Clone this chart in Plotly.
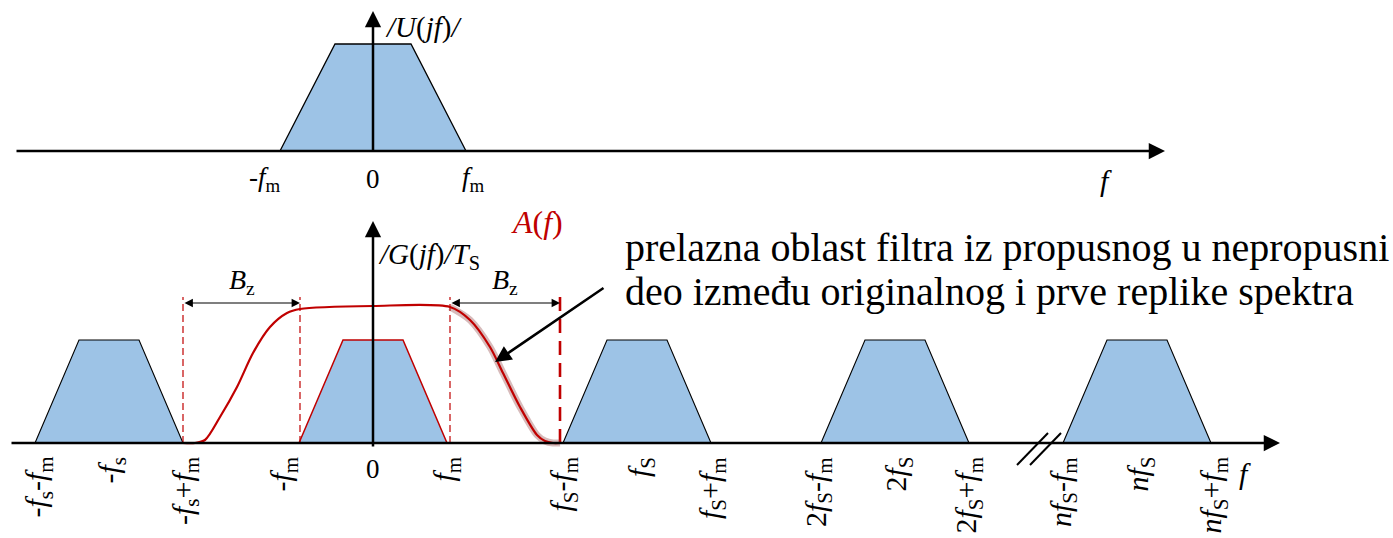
import plotly.graph_objects as go

# ---------------- data (frequency units, 0 at the vertical axis) ----------------
# top spectrum |U(jf)|
top_fm = 93          # half width of base (f_m)
top_flat = 38        # half width of flat top
top_h = 107          # height

# bottom spectrum replicas
rep_centers = [-264, 0, 264, 522, 764]
rep_fm = 74
rep_flat = 30
rep_h = 103

# filter A(f)
filt_x = [-190, -178, -168, -153, -136, -120, -103, -86, -73, 0, 77, 97, 117, 130, 147, 164, 172, 180, 187]
filt_y = [0, 0, 3, 26, 56, 90, 116, 130, 134, 137, 136, 123, 96, 70, 36, 8, 2, 0, 0]
trans_x = [77, 97, 117, 130, 147, 164, 172, 180, 187]
trans_y = [136, 123, 96, 70, 36, 8, 2, 0, 0]

dash_pos = [-190, -73, 77, 187]
bz_pairs = [(-190, -73), (77, 187)]

top_ticks = [-108, 0, 100]
top_labels = ["-<i>f</i><sub>m</sub>", "0", "<i>f</i><sub>m</sub>"]

bot_ticks = [-335, -262, -188, -90, 0, 73, 190, 268, 339, 445, 525, 595, 690, 767, 840]
bot_labels = [
    "-<i>f</i><sub>s</sub>-<i>f</i><sub>m</sub>", "-<i>f</i><sub>s</sub>", "-<i>f</i><sub>s</sub>+<i>f</i><sub>m</sub>",
    "-<i>f</i><sub>m</sub>", "0", "<i>f</i><sub>m</sub>",
    "<i>f</i><sub>S</sub>-<i>f</i><sub>m</sub>", "<i>f</i><sub>S</sub>", "<i>f</i><sub>S</sub>+<i>f</i><sub>m</sub>",
    "2<i>f</i><sub>S</sub>-<i>f</i><sub>m</sub>", "2<i>f</i><sub>S</sub>", "2<i>f</i><sub>S</sub>+<i>f</i><sub>m</sub>",
    "<i>nf</i><sub>S</sub>-<i>f</i><sub>m</sub>", "<i>nf</i><sub>S</sub>", "<i>nf</i><sub>S</sub>+<i>f</i><sub>m</sub>",
]

note_lines = ["prelazna oblast filtra iz propusnog u nepropusni",
              "deo između originalnog i prve replike spektra"]

FONT = "Liberation Serif"
BLUE = "#9DC3E6"
RED = "#C00000"

fig = go.Figure()

# top trapezoid
fig.add_trace(go.Scatter(
    x=[-top_fm, -top_flat, top_flat, top_fm], y=[0, top_h, top_h, 0],
    fill="toself", fillcolor=BLUE, mode="lines", line=dict(color="black", width=1.3),
    xaxis="x", yaxis="y", hoverinfo="skip"))

# bottom replicas
for c in rep_centers:
    center = (c == 0)
    fig.add_trace(go.Scatter(
        x=[c - rep_fm, c - rep_flat, c + rep_flat, c + rep_fm, c - rep_fm],
        y=[0, rep_h, rep_h, 0, 0],
        fill="toself", fillcolor=BLUE, mode="lines",
        line=dict(color=RED if center else "black", width=1.5 if center else 1.1),
        xaxis="x", yaxis="y2", hoverinfo="skip"))

# dashed boundaries
for i, p in enumerate(dash_pos):
    last = i == len(dash_pos) - 1
    fig.add_trace(go.Scatter(
        x=[p, p], y=[0, 146], mode="lines",
        line=dict(color=RED, width=2.6 if last else 1.2, dash="14px,8px" if last else "7px,4px"),
        xaxis="x", yaxis="y2", hoverinfo="skip"))

# blurred transition highlight
fig.add_trace(go.Scatter(x=trans_x, y=trans_y, mode="lines",
                         line=dict(color="rgba(140,60,60,0.35)", width=7, shape="spline", smoothing=0.8),
                         xaxis="x", yaxis="y2", hoverinfo="skip"))
# filter curve
fig.add_trace(go.Scatter(x=filt_x, y=filt_y, mode="lines", line=dict(color=RED, width=2.2, shape="spline", smoothing=0.8),
                         xaxis="x", yaxis="y2", hoverinfo="skip"))

# break marks
for off in [0, 13]:
    fig.add_trace(go.Scatter(x=[644 + off, 675 + off], y=[-22, 10], mode="lines", line=dict(color="black", width=2),
                             xaxis="x", yaxis="y2", hoverinfo="skip"))

ann = []


def arrow(x, y, ax, ay, yref, w=2.5, size=1.3, side="end", head=2):
    ann.append(dict(x=x, y=y, ax=ax, ay=ay, xref="x", yref=yref, axref="x", ayref=yref,
                    showarrow=True, arrowhead=head, startarrowhead=head, arrowsize=size, startarrowsize=size,
                    arrowwidth=w, arrowcolor="black", arrowside=side, text="", standoff=0, startstandoff=0))


# axes
arrow(792, 0, -358, 0, "y")
arrow(0, 140, 0, -2, "y")
arrow(907, 0, -363, 0, "y2")
arrow(0, 222, 0, -5, "y2")

# Bz arrows
for a, b in bz_pairs:
    arrow(b, 140, a, 140, "y2", w=1.2, size=1.4, side="end+start")
    ann.append(dict(x=(a + b) / 2, y=162, xref="x", yref="y2", text="<i>B</i><sub>z</sub>",
                    showarrow=False, font=dict(family=FONT, size=28, color="black")))

# pointer arrow
arrow(122, 81, 232, 156, "y2", w=2.5, size=1.3)


def label(x, y, yref, text, angle=0, size=25, color="black", xanchor="center", yanchor="middle"):
    ann.append(dict(x=x, y=y, xref="x", yref=yref, text=text, showarrow=False, textangle=angle,
                    xanchor=xanchor, yanchor=yanchor, font=dict(family=FONT, size=size, color=color)))


for t, l in zip(top_ticks, top_labels):
    label(t, -28, "y", l, size=27)
label(733, -29, "y", "<i>f</i>", size=30)
label(10, 124, "y", "<i>/U</i>(<i>jf</i>)<i>/</i>", size=29, xanchor="left")

for t, l in zip(bot_ticks, bot_labels):
    if l == "0":
        label(t, -26, "y2", l, size=27)
    else:
        label(t, -12, "y2", l, angle=-90, size=30, yanchor="top")
label(872, -30, "y2", "<i>f</i>", size=30)

label(3, 187, "y2", "<i>/G</i>(<i>jf</i>)<i>/T</i><sub>S</sub>", size=29, xanchor="left")
label(164, 221, "y2", "<i>A</i>(<i>f</i>)", size=32, color=RED)
label(250, 196, "y2", note_lines[0], size=40, xanchor="left")
label(250, 152, "y2", note_lines[1], size=40, xanchor="left")

fig.update_layout(
    width=1393, height=538, margin=dict(l=0, r=0, t=0, b=0),
    paper_bgcolor="white", plot_bgcolor="white", showlegend=False,
    font=dict(family=FONT),
    xaxis=dict(range=[-373, 1020], domain=[0, 1], visible=False, fixedrange=True),
    yaxis=dict(range=[-49, 151], domain=[0.62825, 1], visible=False, fixedrange=True),
    yaxis2=dict(range=[-95, 243], domain=[0, 0.62825], visible=False, fixedrange=True),
    annotations=ann,
)

fig.write_html("out.html", config={"displayModeBar": False})
